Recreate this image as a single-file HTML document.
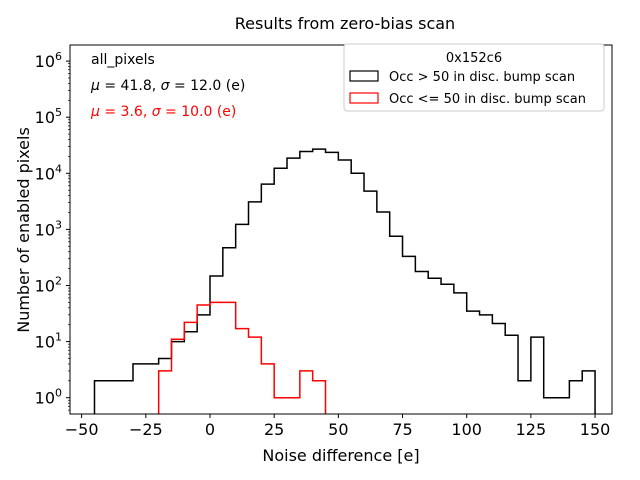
<!DOCTYPE html>
<html><head><meta charset="utf-8"><style>
html,body{margin:0;padding:0;background:#fff;}
svg{display:block;font-family:"DejaVu Sans","Liberation Sans",sans-serif;}
</style></head><body>
<svg id="chart" width="640" height="480" viewBox="0 0 640 480"></svg>
<script>
const binEdgesStart = -45;
const binWidth = 5;
const blackCounts = [2,2,2,4,4,5,10,15,30,148,470,1230,3100,6400,12300,18600,24500,27000,23600,17300,10000,4800,2040,755,330,178,135,105,74,35,30,21,13,2,12,1,1,2,3];
const redStart = -20;
const redCounts = [3,11,22,45,50,50,17,12,4,1,1,3,2];
const xTicks = [-50,-25,0,25,50,75,100,125,150];
const yDecades = [0,1,2,3,4,5,6];

const NS="http://www.w3.org/2000/svg";
const svg=document.getElementById('chart');
const L=70,R=612,T=45,B=414;
function xs(v){return 210+(v)*2.567;}
function ys(v){return 397.7-Math.log10(v)*56.1;}
function el(tag,attrs,parent){const e=document.createElementNS(NS,tag);for(const k in attrs)e.setAttribute(k,attrs[k]);(parent||svg).appendChild(e);return e;}

function stepPath(start,counts){
  let d='M'+xs(start)+','+B;
  counts.forEach((c,i)=>{const x0=xs(start+i*binWidth),x1=xs(start+(i+1)*binWidth),y=ys(c);d+=' L'+x0+','+y+' L'+x1+','+y;});
  d+=' L'+xs(start+counts.length*binWidth)+','+B;
  return d;
}
const clip=el('clipPath',{id:'pc'});el('rect',{x:L,y:T,width:R-L,height:B-T},clip);
const pb=el('path',{d:stepPath(binEdgesStart,blackCounts),fill:'none',stroke:'#000','stroke-width':1.5,'clip-path':'url(#pc)'});


const pr=el('path',{d:stepPath(redStart,redCounts),fill:'none',stroke:'#f00','stroke-width':1.5,'clip-path':'url(#pc)'});



const frame=el('rect',{x:L,y:T,width:R-L,height:B-T,fill:'none',stroke:'#000','stroke-width':1});



xTicks.forEach(t=>{
  const x=xs(t);
  el('line',{x1:x,x2:x,y1:B,y2:B+4,stroke:'#000'});
  const tx=el('text',{x:x,y:B+21,'font-size':16,'text-anchor':'middle'});
  tx.textContent=(t<0?'\u2212'+(-t):t);
  
  
});
yDecades.forEach(d=>{
  const y=ys(Math.pow(10,d));
  el('line',{x1:L-4,x2:L,y1:y,y2:y,stroke:'#000'});
  for(let m=2;m<10;m++){const yy=ys(m*Math.pow(10,d));if(yy>T&&yy<B)el('line',{x1:L-2,x2:L,y1:yy,y2:yy,stroke:'#000','stroke-width':0.7});}
  const tx=el('text',{x:L-8,y:y+6,'font-size':16,'text-anchor':'end'});
  tx.innerHTML='10<tspan dy="-7" font-size="11">'+d+'</tspan>';
  
  
});
for(let m=2;m<10;m++){const yy=ys(m*0.1);if(yy>T&&yy<B)el('line',{x1:L-2,x2:L,y1:yy,y2:yy,stroke:'#000','stroke-width':0.7});}
</script>
<script>
(function(){
const svg=document.getElementById('chart');
const NS="http://www.w3.org/2000/svg";
function t(x,y,s,txt,name,extra){const e=document.createElementNS(NS,'text');e.setAttribute('x',x);e.setAttribute('y',y);e.setAttribute('font-size',s);for(const k in (extra||{}))e.setAttribute(k,extra[k]);e.innerHTML=txt;svg.appendChild(e);return e;}
t(345,29,16,'Results from zero-bias scan','chart-title',{'text-anchor':'middle'});
t(341,461,16,'Noise difference [e]','x-axis-title',{'text-anchor':'middle'});
t(29,230,16,'Number of enabled pixels','y-axis-title',{'text-anchor':'middle',transform:'rotate(-90 29 230)'});
t(91,64,14,'all_pixels','annotation-label');
t(91,90,14,'<tspan font-style="italic">μ</tspan> = 41.8, <tspan font-style="italic">σ</tspan> = 12.0 (e)','annotation-black-stats');
t(91,116,14,'<tspan font-style="italic">μ</tspan> = 3.6, <tspan font-style="italic">σ</tspan> = 10.0 (e)','annotation-red-stats',{fill:'#f00'});
const g=document.createElementNS(NS,'g');svg.appendChild(g);
const box=document.createElementNS(NS,'rect');
[['x',344],['y',44],['width',260],['height',67],['rx',3],['fill','#fff'],['stroke','#ccc']].forEach(a=>box.setAttribute(a[0],a[1]));g.appendChild(box);
t(474,62,13,'0x152c6','legend-title',{'text-anchor':'middle'});
function sw(y,c,name){const r=document.createElementNS(NS,'rect');r.setAttribute('x',350);r.setAttribute('y',y);r.setAttribute('width',28);r.setAttribute('height',10);r.setAttribute('fill','none');r.setAttribute('stroke',c);r.setAttribute('stroke-width',1.2);svg.appendChild(r);}
sw(71,'#000','legend-swatch-black');
t(389,81,13,'Occ &gt; 50 in disc. bump scan','legend-entry-black');
sw(93,'#f00','legend-swatch-red');
t(389,103,13,'Occ &lt;= 50 in disc. bump scan','legend-entry-red');
})();
</script>
</body></html>
